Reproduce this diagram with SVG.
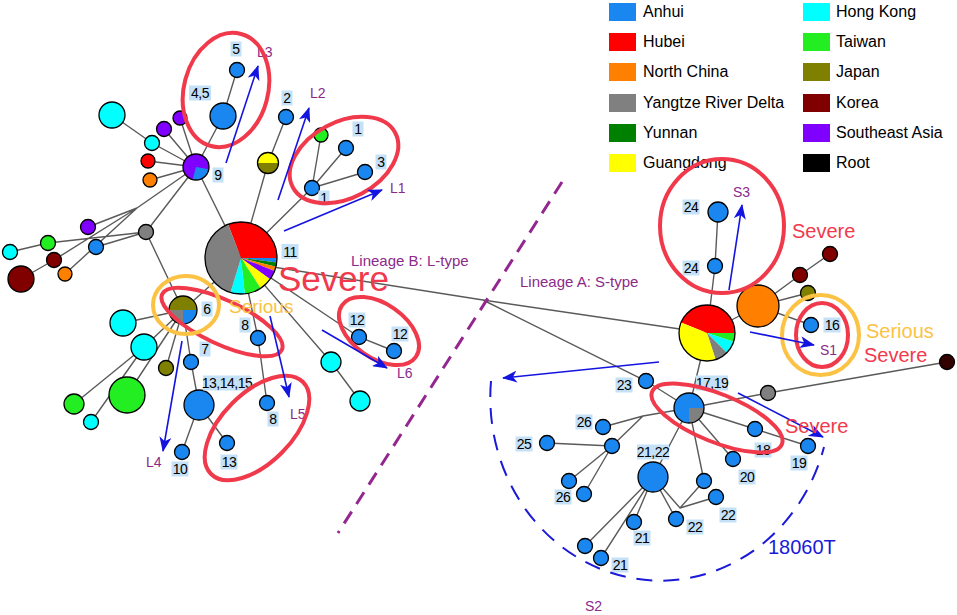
<svg xmlns="http://www.w3.org/2000/svg" width="957" height="615" viewBox="0 0 957 615">
<style>
  text { font-family: "Liberation Sans", Arial, sans-serif; }
  .e { stroke: #5a5a5a; stroke-width: 1.4; fill: none; }
  .n { stroke: #000; stroke-width: 1.3; }
  .ah { fill: #1a87f0; } .hb { fill: #ff0000; } .nc { fill: #ff8000; } .yr { fill: #808080; }
  .yn { fill: #008000; } .gd { fill: #ffff00; } .hk { fill: #00ffff; } .tw { fill: #22ee22; }
  .jp { fill: #808000; } .kr { fill: #800000; } .sea { fill: #8000ff; } .rt { fill: #330000; }
  .lb rect { fill: #c4e1f7; }
  .lb text { font-size: 14px; fill: #000; text-anchor: middle; letter-spacing: -0.5px; }
  .pl { font-size: 14px; fill: #8b2a8b; }
  .red { fill: none; stroke: #f03a4c; stroke-width: 4; }
  .gold { fill: none; stroke: #fbc244; stroke-width: 4; }
  .arr { stroke: #1414e0; stroke-width: 1.6; fill: none; marker-end: url(#ah); }
  .lg { font-size: 16px; fill: #000; }
</style>
<defs>
  <marker id="ah" markerUnits="userSpaceOnUse" markerWidth="16" markerHeight="12" refX="14" refY="6" orient="auto">
    <path d="M0,0 L15,6 L0,12 L4,6 Z" fill="#1414e0"/>
  </marker>
</defs>
<rect width="957" height="615" fill="#fff"/>

<g id="connectors">
  <path class="e" d="M241,258 L196,167 M196,167 L223,116 L237,70 M196,167 L152,143 L112,115 M196,167 L164,129 M196,167 L180,118 M196,167 L148,161 M196,167 L150,180"/>
  <path class="e" d="M196,167 L137,208 M137,208 L88,227 M137,208 L54,260 L21,279 M137,208 L65,274 M196,167 L146,232 M146,232 L48,243 L10,252 M146,232 L96,247 M146,232 L183,310"/>
  <path class="e" d="M241,258 L183,310 M183,310 L123,323 M183,310 L144,347 M183,310 L166,368 M183,310 L127,395 M183,310 L191,362 L199,405 M144,347 L74,404 M144,347 L91,422 M199,405 L182,452 M199,405 L227,443"/>
  <path class="e" d="M241,258 L258,338 L267,403 M241,258 L268,163 L286,117 M241,258 L312,188 M312,188 L321,135 M312,188 L346,148 M312,188 L365,172 M241,258 L359,337 L394,351 M241,258 L331,362 L360,401"/>
  <path class="e" d="M241,262 L483,300 L707,333 M483,300 L646,381 L689,408"/>
  <path class="e" d="M707,333 L715,266 L718,212 M707,333 L758,306 M758,306 L800,275 L830,254 M758,306 L808,293 M758,306 L811,325 M707,333 L689,408"/>
  <path class="e" d="M689,408 L768,393 L947,362 M689,408 L755,429 L808,446 M689,408 L733,459 M689,408 L704,481 M689,408 L653,477 M689,408 L643,416 L603,427 M643,416 L612,446 M612,446 L547,443 M612,446 L569,481 M612,446 L584,494"/>
  <path class="e" d="M653,477 L634,522 M653,477 L601,558 M653,477 L585,546 M653,477 L676,519 M653,477 L680,508 L704,481 M680,508 L716,497"/>
</g>

<g id="legend">
  <rect x="609" y="3" width="27" height="18" class="ah"/><text class="lg" x="643" y="17">Anhui</text>
  <rect x="609" y="33" width="27" height="18" class="hb"/><text class="lg" x="643" y="47">Hubei</text>
  <rect x="609" y="63" width="27" height="18" class="nc"/><text class="lg" x="643" y="77">North China</text>
  <rect x="609" y="94" width="27" height="18" class="yr"/><text class="lg" x="643" y="108">Yangtze River Delta</text>
  <rect x="609" y="124" width="27" height="18" class="yn"/><text class="lg" x="643" y="138">Yunnan</text>
  <rect x="609" y="154" width="27" height="18" class="gd"/><text class="lg" x="643" y="168">Guangdong</text>
  <rect x="803" y="3" width="27" height="18" class="hk"/><text class="lg" x="836" y="17">Hong Kong</text>
  <rect x="803" y="33" width="27" height="18" class="tw"/><text class="lg" x="836" y="47">Taiwan</text>
  <rect x="803" y="63" width="27" height="18" class="jp"/><text class="lg" x="836" y="77">Japan</text>
  <rect x="803" y="94" width="27" height="18" class="kr"/><text class="lg" x="836" y="108">Korea</text>
  <rect x="803" y="124" width="27" height="18" class="sea"/><text class="lg" x="836" y="138">Southeast Asia</text>
  <rect x="803" y="154" width="27" height="18" fill="#000"/><text class="lg" x="836" y="168">Root</text>
</g>

<g id="nodes">
  <g id="n-L">
    <path class="hb" d="M241,258 L228.1,224.39 A36,36 0 0 1 277,258 Z"/>
    <path class="ah" d="M241,258 L277,258 A36,36 0 0 1 276.73,262.39 Z"/>
    <path class="yn" d="M241,258 L276.73,262.39 A36,36 0 0 1 275.93,266.71 Z"/>
    <path class="nc" d="M241,258 L275.93,266.71 A36,36 0 0 1 274.61,270.9 Z"/>
    <path class="sea" d="M241,258 L274.61,270.9 A36,36 0 0 1 270.12,279.16 Z"/>
    <path class="gd" d="M241,258 L270.12,279.16 A36,36 0 0 1 260.61,288.19 Z"/>
    <path class="tw" d="M241,258 L260.61,288.19 A36,36 0 0 1 244.76,293.8 Z"/>
    <path class="hk" d="M241,258 L244.76,293.8 A36,36 0 0 1 230.47,292.43 Z"/>
    <path class="yr" d="M241,258 L230.47,292.43 A36,36 0 0 1 228.1,224.39 Z"/>
    <circle cx="241" cy="258" r="36" fill="none" class="n"/>
  </g>
  <g id="n-9">
    <circle cx="196" cy="167" r="13" class="sea"/>
    <path class="ah" d="M196,167 L208.8,169.26 A13,13 0 0 1 192.64,179.56 Z"/>
    <circle cx="196" cy="167" r="13" fill="none" class="n"/>
  </g>
  <g id="n-6">
    <path class="jp" d="M169,310 A14,14 0 0 1 197,310 Z"/>
    <path class="ah" d="M183,310 L197,310 A14,14 0 0 1 183,324 Z"/>
    <path class="yr" d="M183,310 L183,324 A14,14 0 0 1 169,310 Z"/>
    <circle cx="183" cy="310" r="14" fill="none" class="n"/>
  </g>
  <g id="n-gj">
    <path class="gd" d="M257.5,163 A10.5,10.5 0 0 1 278.5,163 Z"/>
    <path class="jp" d="M278.5,163 A10.5,10.5 0 0 1 257.5,163 Z"/>
    <circle cx="268" cy="163" r="10.5" fill="none" class="n"/>
  </g>
  <circle id="n-5" cx="237" cy="70" r="7.5" class="n ah"/>
  <circle id="n-45" cx="223" cy="116" r="13" class="n ah"/>
  <circle id="n-hk1" cx="112" cy="115" r="13" class="n hk"/>
  <circle id="n-hk2" cx="152" cy="143" r="7.5" class="n hk"/>
  <circle id="n-sea1" cx="164" cy="129" r="7.5" class="n sea"/>
  <circle id="n-sea2" cx="180" cy="118" r="7" class="n sea"/>
  <circle id="n-hb1" cx="148" cy="161" r="7" class="n hb"/>
  <circle id="n-nc1" cx="150" cy="180" r="7" class="n nc"/>
  <circle id="n-2" cx="286" cy="117" r="7.5" class="n ah"/>
  <circle id="n-tw1" cx="321" cy="135" r="7" class="n tw"/>
  <circle id="n-1a" cx="346" cy="148" r="7.5" class="n ah"/>
  <circle id="n-3" cx="365" cy="172" r="7.5" class="n ah"/>
  <circle id="n-1b" cx="312" cy="188" r="7.5" class="n ah"/>
  <circle id="n-sea3" cx="88" cy="227" r="7.5" class="n sea"/>
  <circle id="n-tw2" cx="48" cy="243" r="7.5" class="n tw"/>
  <circle id="n-hk3" cx="10" cy="252" r="7.5" class="n hk"/>
  <circle id="n-kr1" cx="54" cy="260" r="7.5" class="n kr"/>
  <circle id="n-kr2" cx="21" cy="279" r="13" class="n kr"/>
  <circle id="n-nc2" cx="65" cy="274" r="7" class="n nc"/>
  <circle id="n-ah1" cx="96" cy="247" r="7.5" class="n ah"/>
  <circle id="n-yr1" cx="146" cy="232" r="7.5" class="n yr"/>
  <circle id="n-8a" cx="258" cy="338" r="7.5" class="n ah"/>
  <circle id="n-7" cx="191" cy="362" r="7.5" class="n ah"/>
  <circle id="n-hk4" cx="123" cy="323" r="13" class="n hk"/>
  <circle id="n-hk5" cx="144" cy="347" r="13" class="n hk"/>
  <circle id="n-jp1" cx="166" cy="368" r="7.5" class="n jp"/>
  <circle id="n-tw3" cx="127" cy="395" r="18" class="n tw"/>
  <circle id="n-tw4" cx="74" cy="404" r="10" class="n tw"/>
  <circle id="n-hk6" cx="91" cy="422" r="7.5" class="n hk"/>
  <circle id="n-131415" cx="199" cy="405" r="15" class="n ah"/>
  <circle id="n-8b" cx="267" cy="403" r="7.5" class="n ah"/>
  <circle id="n-10" cx="182" cy="452" r="7.5" class="n ah"/>
  <circle id="n-13" cx="227" cy="443" r="7.5" class="n ah"/>
  <circle id="n-12a" cx="359" cy="337" r="7.5" class="n ah"/>
  <circle id="n-12b" cx="394" cy="351" r="7.5" class="n ah"/>
  <circle id="n-hk7" cx="331" cy="362" r="10" class="n hk"/>
  <circle id="n-hk8" cx="360" cy="401" r="10" class="n hk"/>

  <g id="n-S">
    <path class="hb" d="M707,333 L681.04,322.51 A28,28 0 0 1 735,333 Z"/>
    <path class="tw" d="M707,333 L735,333 A28,28 0 0 1 733.63,341.65 Z"/>
    <path class="hk" d="M707,333 L733.63,341.65 A28,28 0 0 1 726.8,352.8 Z"/>
    <path class="yr" d="M707,333 L726.8,352.8 A28,28 0 0 1 715.65,359.63 Z"/>
    <path class="gd" d="M707,333 L715.65,359.63 A28,28 0 0 1 681.04,322.51 Z"/>
    <circle cx="707" cy="333" r="28" fill="none" class="n"/>
  </g>
  <g id="n-1719">
    <circle cx="689" cy="408" r="15" class="ah"/>
    <path class="yr" d="M689,408 L704,408 A15,15 0 0 1 689,423 Z"/>
    <circle cx="689" cy="408" r="15" fill="none" class="n"/>
  </g>
  <circle id="n-24a" cx="718" cy="212" r="10" class="n ah"/>
  <circle id="n-24b" cx="715" cy="266" r="7.5" class="n ah"/>
  <circle id="n-nc3" cx="758" cy="306" r="21" class="n nc"/>
  <circle id="n-kr3" cx="800" cy="275" r="7.5" class="n kr"/>
  <circle id="n-kr4" cx="830" cy="254" r="7.5" class="n kr"/>
  <circle id="n-jp2" cx="808" cy="293" r="7.5" class="n jp"/>
  <circle id="n-16" cx="811" cy="325" r="7.5" class="n ah"/>
  <circle id="n-root" cx="947" cy="362" r="7.5" class="n rt"/>
  <circle id="n-yr2" cx="768" cy="393" r="7.5" class="n yr"/>
  <circle id="n-23" cx="646" cy="381" r="7.5" class="n ah"/>
  <circle id="n-18" cx="755" cy="429" r="7.5" class="n ah"/>
  <circle id="n-19" cx="808" cy="446" r="7.5" class="n ah"/>
  <circle id="n-20" cx="733" cy="459" r="7.5" class="n ah"/>
  <circle id="n-26a" cx="603" cy="427" r="7.5" class="n ah"/>
  <circle id="n-j" cx="612" cy="446" r="7.5" class="n ah"/>
  <circle id="n-25" cx="547" cy="443" r="7.5" class="n ah"/>
  <circle id="n-x1" cx="569" cy="481" r="7.5" class="n ah"/>
  <circle id="n-26b" cx="584" cy="494" r="7.5" class="n ah"/>
  <circle id="n-2122" cx="653" cy="477" r="15" class="n ah"/>
  <circle id="n-x2" cx="704" cy="481" r="7.5" class="n ah"/>
  <circle id="n-22a" cx="716" cy="497" r="7.5" class="n ah"/>
  <circle id="n-22b" cx="676" cy="519" r="7.5" class="n ah"/>
  <circle id="n-21a" cx="634" cy="522" r="7.5" class="n ah"/>
  <circle id="n-x3" cx="585" cy="546" r="7.5" class="n ah"/>
  <circle id="n-21b" cx="601" cy="558" r="7.5" class="n ah"/>
</g>

<g id="labels" class="lb">
  <rect x="230.5" y="41.5" width="11" height="15"/><text x="236" y="54">5</text>
  <rect x="189" y="85.5" width="22" height="15"/><text x="200" y="98">4,5</text>
  <rect x="212.5" y="167.5" width="11" height="15"/><text x="218" y="180">9</text>
  <rect x="281.5" y="90.5" width="11" height="15"/><text x="287" y="103">2</text>
  <rect x="352.5" y="121.5" width="11" height="15"/><text x="358" y="134">1</text>
  <rect x="375.5" y="154.5" width="11" height="15"/><text x="381" y="167">3</text>
  <rect x="318.5" y="190.5" width="11" height="15"/><text x="324" y="203">1</text>
  <rect x="281.5" y="244" width="17" height="15"/><text x="290" y="256.5">11</text>
  <rect x="201.5" y="301.5" width="11" height="15"/><text x="207" y="314">6</text>
  <rect x="239.5" y="317.5" width="11" height="15"/><text x="245" y="330">8</text>
  <rect x="199.5" y="341.5" width="11" height="15"/><text x="205" y="354">7</text>
  <rect x="203" y="375.5" width="48" height="15"/><text x="227" y="388">13,14,15</text>
  <rect x="267.5" y="411.5" width="11" height="15"/><text x="273" y="424">8</text>
  <rect x="171.5" y="461.5" width="17" height="15"/><text x="180" y="474">10</text>
  <rect x="220.5" y="454.5" width="17" height="15"/><text x="229" y="467">13</text>
  <rect x="348.5" y="312.5" width="17" height="15"/><text x="357" y="325">12</text>
  <rect x="391.5" y="326.5" width="17" height="15"/><text x="400" y="339">12</text>
  <rect x="682.5" y="199.5" width="17" height="15"/><text x="691" y="212">24</text>
  <rect x="682.5" y="260.5" width="17" height="15"/><text x="691" y="273">24</text>
  <rect x="823.5" y="317.5" width="17" height="15"/><text x="832" y="330">16</text>
  <rect x="615.5" y="377.5" width="17" height="15"/><text x="624" y="390">23</text>
  <rect x="696" y="375.5" width="32" height="15"/><text x="712" y="388">17,19</text>
  <rect x="575.5" y="414.5" width="17" height="15"/><text x="584" y="427">26</text>
  <rect x="515.5" y="436.5" width="17" height="15"/><text x="524" y="449">25</text>
  <rect x="554.5" y="489.5" width="17" height="15"/><text x="563" y="502">26</text>
  <rect x="637" y="444.5" width="32" height="15"/><text x="653" y="457">21,22</text>
  <rect x="754.5" y="442.5" width="17" height="15"/><text x="763" y="455">18</text>
  <rect x="790.5" y="455.5" width="17" height="15"/><text x="799" y="468">19</text>
  <rect x="738.5" y="469.5" width="17" height="15"/><text x="747" y="482">20</text>
  <rect x="719.5" y="507.5" width="17" height="15"/><text x="728" y="520">22</text>
  <rect x="686.5" y="519.5" width="17" height="15"/><text x="695" y="532">22</text>
  <rect x="633.5" y="530.5" width="17" height="15"/><text x="642" y="543">21</text>
  <rect x="611.5" y="557.5" width="17" height="15"/><text x="620" y="570">21</text>
</g>

<g id="annotations">
  <path d="M562,182 L338,533" stroke="#93278f" stroke-width="3" stroke-dasharray="14,9" fill="none"/>
  <path d="M491,381 A170,183 0 0 0 824,447" stroke="#1a1ad8" stroke-width="2" stroke-dasharray="16,11" fill="none"/>
  <text class="pl" x="257" y="57">L3</text>
  <text class="pl" x="310" y="98">L2</text>
  <text class="pl" x="390" y="193">L1</text>
  <text class="pl" x="146" y="467">L4</text>
  <text class="pl" x="290" y="419">L5</text>
  <text class="pl" x="397" y="378">L6</text>
  <text class="pl" x="733" y="197">S3</text>
  <text class="pl" x="820" y="355">S1</text>
  <text class="pl" x="585" y="611">S2</text>
  <text class="pl" x="351" y="266" style="font-size:15px">Lineage B: L-type</text>
  <text class="pl" x="520" y="287" style="font-size:15px">Lineage A: S-type</text>

  <ellipse class="red" cx="226" cy="90" rx="42" ry="58" transform="rotate(15 226 90)"/>
  <ellipse class="red" cx="344" cy="160" rx="58" ry="38" transform="rotate(-28 344 160)"/>
  <ellipse class="red" cx="222" cy="322" rx="66" ry="22" transform="rotate(25 222 322)"/>
  <ellipse class="red" cx="257" cy="428" rx="65" ry="35" transform="rotate(-45 257 428)"/>
  <ellipse class="red" cx="379" cy="331" rx="45" ry="27" transform="rotate(35 379 331)"/>
  <ellipse class="red" cx="722" cy="226" rx="62" ry="67"/>
  <ellipse class="red" cx="822" cy="335" rx="26" ry="32"/>
  <ellipse class="red" cx="717" cy="418" rx="70" ry="24" transform="rotate(22 717 418)"/>
  <ellipse class="gold" cx="186" cy="305" rx="33" ry="29"/>
  <ellipse class="gold" cx="820.5" cy="335" rx="38.5" ry="40"/>

  <line class="arr" x1="226" y1="163" x2="258" y2="66"/>
  <line class="arr" x1="278" y1="200" x2="309" y2="108"/>
  <line class="arr" x1="284" y1="231" x2="382" y2="190"/>
  <line class="arr" x1="322" y1="330" x2="387" y2="368"/>
  <line class="arr" x1="270" y1="316" x2="289" y2="397"/>
  <line class="arr" x1="182" y1="341" x2="163" y2="451"/>
  <line class="arr" x1="729" y1="290" x2="742" y2="205"/>
  <line class="arr" x1="750" y1="332" x2="814" y2="345"/>
  <line class="arr" x1="659" y1="362" x2="503" y2="378"/>
  <line class="arr" x1="738" y1="393" x2="823" y2="437"/>

  <text x="278" y="291" style="font-size:35px" fill="#f03a4c">Severe</text>
  <text x="229" y="313" style="font-size:19px" fill="#fbc244">Serious</text>
  <text x="792" y="238" style="font-size:20px" fill="#f03a4c">Severe</text>
  <text x="866" y="338" style="font-size:20px" fill="#fbc244">Serious</text>
  <text x="864" y="362" style="font-size:20px" fill="#f03a4c">Severe</text>
  <text x="785" y="433" style="font-size:20px" fill="#f03a4c">Severe</text>
  <text x="768" y="554" style="font-size:20px" fill="#1a1ad8">18060T</text>
</g>
</svg>
